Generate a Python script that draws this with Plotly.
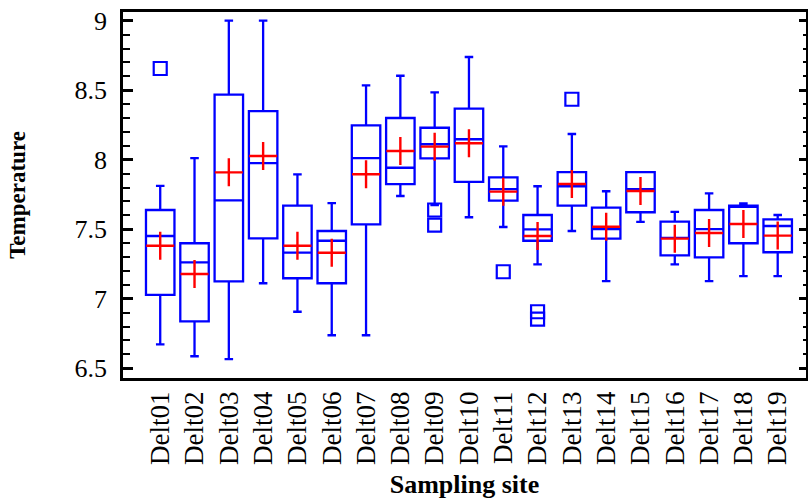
import plotly.graph_objects as go

# Temperature summary statistics per sampling site
sites = [f"Delt{i:02d}" for i in range(1, 20)]
q1 = [7.027, 6.837, 7.125, 7.434, 7.147, 7.111, 7.535, 7.825, 8.010, 7.840,
      7.705, 7.417, 7.669, 7.432, 7.622, 7.312, 7.298, 7.399, 7.334]
median = [7.451, 7.262, 7.708, 7.976, 7.331, 7.417, 8.012, 7.942, 8.111, 8.147,
          7.789, 7.499, 7.809, 7.501, 7.789, 7.437, 7.501, 7.660, 7.523]
q3 = [7.638, 7.399, 8.468, 8.350, 7.669, 7.487, 8.247, 8.300, 8.230, 8.367,
      7.873, 7.602, 7.911, 7.655, 7.911, 7.554, 7.638, 7.669, 7.571]
lower = [6.672, 6.586, 6.566, 7.111, 6.906, 6.737, 6.737, 7.739, 7.674, 7.586,
         7.516, 7.247, 7.487, 7.127, 7.552, 7.247, 7.127, 7.163, 7.163]
upper = [7.811, 8.012, 9.000, 9.000, 7.895, 7.688, 8.535, 8.604, 8.485, 8.739,
         8.096, 7.809, 8.185, 7.773, 7.911, 7.624, 7.758, 7.686, 7.602]
mean = [7.381, 7.178, 7.909, 8.027, 7.381, 7.331, 7.895, 8.063, 8.094, 8.118,
        7.770, 7.451, 7.825, 7.518, 7.775, 7.432, 7.473, 7.537, 7.454]

# Outlying observations
outlier_sites = ["Delt01", "Delt09", "Delt09", "Delt11", "Delt12", "Delt12", "Delt13"]
outlier_values = [8.656, 7.638, 7.530, 7.194, 6.906, 6.853, 8.435]

BLUE = "#0000FF"
RED = "#FF0000"
FONT = "Liberation Serif"

fig = go.Figure()

fig.add_trace(go.Box(
    x=sites, q1=q1, median=median, q3=q3,
    lowerfence=lower, upperfence=upper,
    width=0.83, whiskerwidth=0.3,
    line=dict(color=BLUE, width=2.3),
    fillcolor="rgba(0,0,0,0)",
    boxpoints=False, showlegend=False, hoverinfo="skip",
))

fig.add_trace(go.Scatter(
    x=outlier_sites, y=outlier_values, mode="markers",
    marker=dict(symbol="square-open", size=13, color=BLUE, line=dict(width=2.2)),
    showlegend=False,
))

fig.add_trace(go.Scatter(
    x=sites, y=mean, mode="markers",
    marker=dict(symbol="cross-thin-open", size=20, color=RED, line=dict(width=2.4, color=RED)),
    showlegend=False,
))

# invisible trace so the right-hand tick axis is drawn
fig.add_trace(go.Scatter(x=[sites[0]], y=[7.0], yaxis="y2", mode="markers",
                         marker=dict(opacity=0), showlegend=False, hoverinfo="skip"))

yrange = [6.4295, 9.0626]

fig.update_layout(
    width=808, height=503,
    margin=dict(l=123, r=2, t=12, b=125),
    paper_bgcolor="white", plot_bgcolor="white",
    font=dict(family=FONT, color="black", size=26),
    xaxis=dict(
        type="category", range=[-1.085, 18.825],
        showline=True, linecolor="black", linewidth=2.5, mirror=True,
        ticks="", tickangle=-90, showgrid=False, zeroline=False,
        tickfont=dict(family=FONT, size=27),
        title=dict(text="Sampling site", standoff=11,
                   font=dict(family=FONT, size=26, weight="bold")),
    ),
    yaxis=dict(
        range=yrange, showline=True, linecolor="black", linewidth=2.5,
        showgrid=False, zeroline=False,
        tickmode="array", tickvals=[6.5, 7, 7.5, 8, 8.5, 9],
        ticktext=["6.5", "7", "7.5", "8", "8.5", "9"],
        ticks="inside", ticklen=10, tickwidth=2.5, tickcolor="black",
        minor=dict(dtick=0.1, tick0=6.5, ticks="inside", ticklen=7, tickwidth=2, tickcolor="black"),
        ticklabelstandoff=8,
        tickfont=dict(family=FONT, size=26),
        title=dict(text="Temperature", standoff=43,
                   font=dict(family=FONT, size=23, weight="bold")),
    ),
    yaxis2=dict(
        range=yrange, overlaying="y", side="right",
        showline=True, linecolor="black", linewidth=2.5,
        showgrid=False, zeroline=False, showticklabels=False,
        tickmode="array", tickvals=[6.5, 7, 7.5, 8, 8.5, 9],
        ticks="inside", ticklen=7, tickwidth=2.5, tickcolor="black",
        minor=dict(dtick=0.1, tick0=6.5, ticks="inside", ticklen=3, tickwidth=2, tickcolor="black"),
    ),
)

fig.write_html("out.html")
